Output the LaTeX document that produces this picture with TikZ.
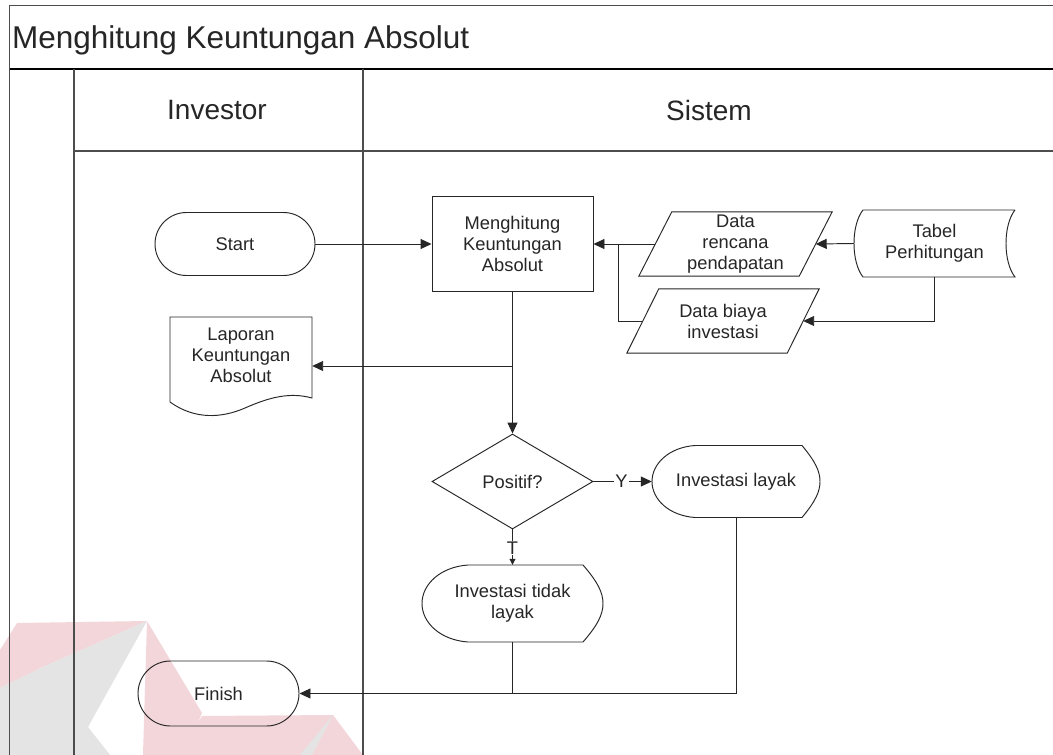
\documentclass[tikz,border=0pt]{standalone}
\usepackage{fontspec}
\setmainfont{Liberation Sans}
\usetikzlibrary{arrows.meta,shapes.geometric,shapes.misc,calc}

\definecolor{ink}{HTML}{262626}
\definecolor{framegray}{HTML}{4D4D4D}
\definecolor{wmred}{RGB}{243,214,218}
\definecolor{wmgray}{RGB}{228,228,228}

\tikzset{
  line/.style={draw=ink, line width=0.95pt},
  flow/.style={line, -{Triangle[length=11pt,width=10pt]}},
  smallflow/.style={line, -{Triangle[length=6pt,width=6pt]}},
  txt/.style={font=\fontsize{18.3}{21}\selectfont, align=center, text=ink, inner sep=0pt},
  area/.style 2 args={minimum width=#1pt, minimum height=#2pt, inner sep=0pt},
  terminal/.style={rounded rectangle, line, txt},
  lanetitle/.style={font=\fontsize{28}{32}\selectfont, text=ink, inner sep=0pt},
  branch/.style={txt, fill=white, inner sep=1pt},
  lanerule/.style={draw=framegray, line width=1.3pt}
}

% outline of a display symbol: flat top and bottom, curved left and right ends
\newcommand{\displayoutline}[5]{%
  % #1 node, #2 half width, #3 half height, #4 left corner x, #5 right corner x
  \draw[line, shift={(#1.center)}]
    (#4,-#3) -- (#5,-#3)
    .. controls ({#5+0.75*(#2-#5)},{-0.55*#3}) and (#2,{-0.28*#3}) .. (#2,0)
    .. controls (#2,{0.28*#3}) and ({#5+0.75*(#2-#5)},{0.55*#3}) .. (#5,#3)
    -- (#4,#3)
    .. controls ({#4-0.6*(#2+#4)},{0.95*#3}) and (-#2,{0.5*#3}) .. (-#2,0)
    .. controls (-#2,{-0.5*#3}) and ({#4-0.6*(#2+#4)},{-0.95*#3}) .. (#4,-#3);}

\begin{document}
\begin{tikzpicture}[x=1pt,y=-1pt]
\useasboundingbox (0,0) rectangle (1053,755);
\fill[white] (0,0) rectangle (1053,755);

% faint logo in the lower left corner
\fill[wmred] (17,623) -- (147,621) -- (43,667) -- (0,688) -- (0,650) -- cycle;
\fill[wmgray] (147,621) -- (88,727) -- (110,755) -- (0,755) -- (0,688) -- (43,667) -- cycle;
\fill[wmred] (147,621) -- (202,713) -- (185,755) -- (143,755) -- cycle;
\fill[wmred] (202,716) -- (333,715) -- (363,755) -- (178,755) -- cycle;
\fill[wmgray] (333,715) -- (300,755) -- (312,755) -- cycle;

% pool frame and lanes
\draw[lanerule] (9.5,755) -- (9.5,5.5) -- (1053,5.5);
\draw[draw=black, line width=1.6pt] (9.5,69) -- (1053,69);
\draw[lanerule] (74,69) -- (74,755);
\draw[lanerule] (363,69) -- (363,755);
\draw[lanerule] (74,151) -- (1053,151);

\node[anchor=west, font=\fontsize{31.5}{36}\selectfont, text=ink, inner sep=0pt] (pooltitle) at (12,40) {Menghitung Keuntungan Absolut};
\node[lanetitle] (laneinvestor) at (217,110) {Investor};
\node[lanetitle] (lanesistem) at (709,110) {Sistem};

% symbols
\node[terminal, minimum width=160pt, minimum height=63pt] (start) at (235,244) {Start};
\node[rectangle, line, txt, area={161}{95}] (proc) at (512.5,243.5) {Menghitung\\Keuntungan\\Absolut};

\node[txt, area={193}{64}] (rencana) at (735.5,244) {Data\\rencana\\pendapatan};
\draw[line] ($(rencana.north west)+(33,0)$) -- (rencana.north east)
  -- ($(rencana.south east)+(-33,0)$) -- (rencana.south west) -- cycle;

\node[txt, area={192}{64}] (biaya) at (723,321) {Data biaya\\investasi};
\draw[line] ($(biaya.north west)+(32,0)$) -- (biaya.north east)
  -- ($(biaya.south east)+(-32,0)$) -- (biaya.south west) -- cycle;

\node[txt, area={161}{67}] (tabel) at (934.5,243.5) {Tabel\\Perhitungan};
\draw[line, shift={(tabel.center)}] (80.5,-33.5) -- (-71.5,-33.5)
  .. controls (-83.5,-18.5) and (-83.5,18.5) .. (-71.5,33.5) -- (80.5,33.5)
  .. controls (68.5,18.5) and (68.5,-18.5) .. (80.5,-33.5);

\node[txt, area={142}{76}] (laporan) at (241,355) {Laporan\\Keuntungan\\Absolut};
\draw[line, shift={(laporan.center)}] (-71,47) -- (-71,-38) -- (71,-38) -- (71,43)
  .. controls (49,37) and (29,42) .. (4,53)
  .. controls (-19,63) and (-46,65) .. (-71,47);

\node[diamond, line, txt, minimum width=161pt, minimum height=95pt] (cek) at (512.5,481.5) {Positif?};

\node[txt, area={168}{72}] (layak) at (736,481.5) {Investasi layak};
\displayoutline{layak}{84}{36}{-41}{66}

\node[txt, area={181}{77}] (tidak) at (512.5,603.5) {Investasi tidak\\layak};
\displayoutline{tidak}{90.5}{38.5}{-44.5}{70.5}

\node[terminal, minimum width=161pt, minimum height=65pt] (finish) at (218.5,693.5) {Finish};

% connectors
\coordinate (merge) at (618,244);
\coordinate (split) at (512.5,366);
\draw[flow] (start.east) -- (start.east -| proc.west);
\draw[flow] (tabel.west) -- ($(rencana.east)+(-16.5,0)$);
\draw[flow] ($(rencana.west)+(16.5,0)$) -- (rencana.west -| proc.east);
\draw[line] ($(biaya.west)+(16,0)$) -| (merge);
\draw[flow] (tabel.south) |- ($(biaya.east)+(-16,0)$);
\draw[flow] (proc.south) -- (cek.north);
\draw[flow] (split) -- (split -| laporan.east);
\draw[flow] (cek.east) -- node[branch, pos=0.48] {Y} (layak.west);
\draw[smallflow] (cek.south) -- node[branch, pos=0.52] {T} (tidak.north);
\draw[line] (tidak.south) -- (tidak.south |- finish.east);
\draw[flow] (layak.south) |- (finish.east);
\end{tikzpicture}
\end{document}
